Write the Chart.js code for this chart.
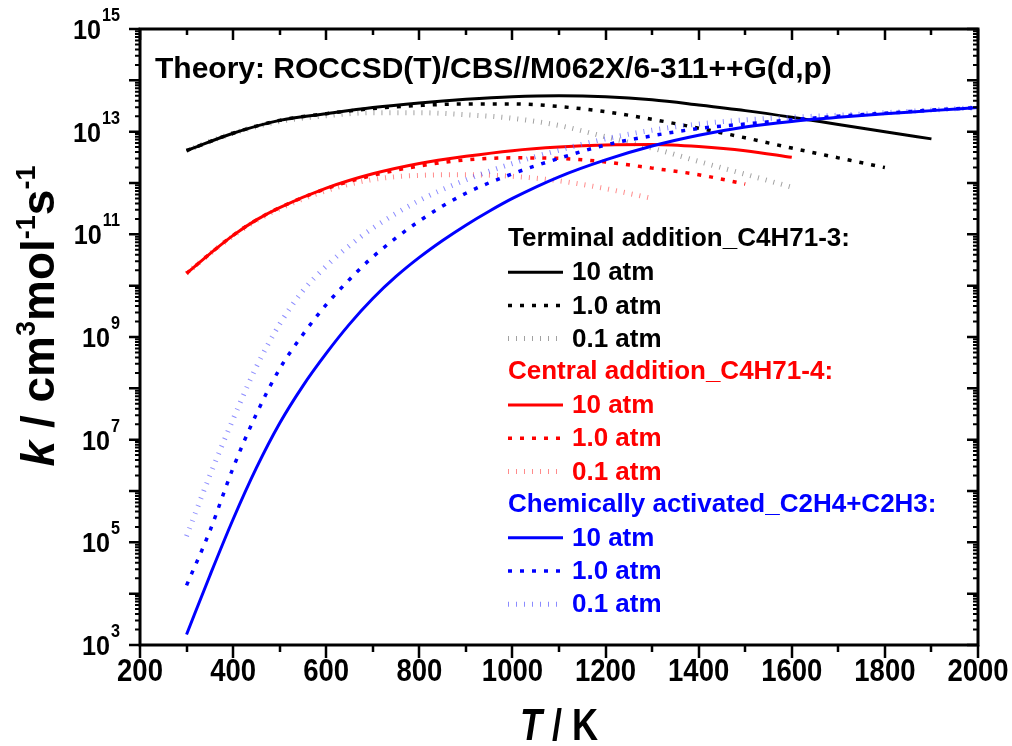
<!DOCTYPE html>
<html><head><meta charset="utf-8">
<script src="https://cdn.jsdelivr.net/npm/chart.js@4/dist/chart.umd.min.js"></script>
<style>html,body{margin:0;padding:0;background:#fff}canvas{display:block}</style>
</head><body>
<canvas id="c" width="1012" height="746"></canvas>
<script>
// ---- Data (T in K, k in cm3 mol-1 s-1) ----
const T_term10 = [300,400,500,600,700,800,900,1000,1100,1200,1300,1400,1500,1600,1700,1800,1900];
const k_term10 = [4.27e12,9.33e12,1.66e13,2.24e13,2.95e13,3.63e13,4.27e13,4.79e13,5.01e13,4.79e13,4.17e13,3.31e13,2.57e13,1.91e13,1.38e13,1.0e13,7.24e12];
const T_term1 = [300,400,500,600,700,800,900,1000,1100,1200,1300,1400,1500,1600,1700,1800];
const k_term1 = [4.27e12,9.33e12,1.66e13,2.24e13,2.82e13,3.24e13,3.47e13,3.47e13,3.09e13,2.45e13,1.74e13,1.17e13,7.59e12,4.79e12,3.09e12,2.0e12];
const T_term01 = [300,400,500,600,700,800,900,1000,1100,1200,1300,1400,1500,1600];
const k_term01 = [4.27e12,9.33e12,1.58e13,2.04e13,2.34e13,2.34e13,2.14e13,1.82e13,1.32e13,7.94e12,4.79e12,2.63e12,1.48e12,8.3e11];

const T_cent10 = [300,350,400,450,500,600,700,800,900,1000,1100,1200,1300,1400,1500,1600];
const k_cent10 = [1.74e10,4.17e10,9.55e10,1.91e11,3.31e11,7.94e11,1.51e12,2.40e12,3.31e12,4.27e12,5.01e12,5.50e12,5.62e12,5.13e12,4.27e12,3.16e12];
const T_cent1 = [300,350,400,450,500,600,700,800,900,1000,1100,1200,1300,1400,1500];
const k_cent1 = [1.74e10,4.17e10,9.55e10,1.91e11,3.31e11,7.76e11,1.41e12,2.14e12,2.82e12,3.09e12,3.02e12,2.57e12,1.95e12,1.45e12,9.55e11];
const T_cent01 = [300,350,400,450,500,600,700,800,900,1000,1100,1200,1300];
const k_cent01 = [1.74e10,4.17e10,9.33e10,1.86e11,3.16e11,7.08e11,1.17e12,1.41e12,1.45e12,1.35e12,1.10e12,7.76e11,5.01e11];

const T_chem10 = [300,350,400,450,500,550,600,650,700,750,800,850,900,950,1000,1100,1200,1300,1400,1500,1600,1700,1800,1900,2000];
const k_chem10 = [1.6e3,2.24e4,2.82e5,2.82e6,2.09e7,1.12e8,4.79e8,1.78e9,5.62e9,1.51e10,3.55e10,7.59e10,1.51e11,2.82e11,5.01e11,1.32e12,2.82e12,5.25e12,8.51e12,1.23e13,1.58e13,1.91e13,2.24e13,2.57e13,2.95e13];
const T_chem1 = [300,350,400,450,500,550,600,650,700,800,900,1000,1100,1200,1300,1400,1500,1600,1700,1800,1900,2000];
const k_chem1 = [1.45e4,1.66e5,2.82e6,3.16e7,2.40e8,1.12e9,4.27e9,1.32e10,3.63e10,1.82e11,6.31e11,1.51e12,3.02e12,5.50e12,8.32e12,1.15e13,1.41e13,1.70e13,2.0e13,2.29e13,2.63e13,2.95e13];
const T_chem01 = [300,350,400,450,500,550,600,650,700,800,900,1000,1100,1200,1300,1400,1500,1600,1700,1800,1900,2000];
const k_chem01 = [1.32e5,2.0e6,2.51e7,2.63e8,1.78e9,7.94e9,2.40e10,6.03e10,1.32e11,4.57e11,1.15e12,2.40e12,4.37e12,7.24e12,1.07e13,1.41e13,1.70e13,1.91e13,2.09e13,2.34e13,2.63e13,2.95e13];

const xTicks = [200,400,600,800,1000,1200,1400,1600,1800,2000];
const yExponents = [3,5,7,9,11,13,15];
const titleText = 'Theory: ROCCSD(T)/CBS//M062X/6-311++G(d,p)';
const groupNames = ['Terminal addition_C4H71-3:','Central addition_C4H71-4:','Chemically activated_C2H4+C2H3:'];
const pressureLabels = ['10 atm','1.0 atm','0.1 atm'];

// ---- Styles ----
const FONT = '"Liberation Sans", Arial, Helvetica, sans-serif';
const groupColors = ['#000000','#ff0000','#0000ff'];
const lightColors = ['rgba(110,110,110,0.65)','rgba(255,90,90,0.7)','rgba(90,90,255,0.7)'];
const styles = [
  {w:3, dash:[]},
  {w:3.5, dash:[4,8]},
  {w:5, dash:[1,7]}
];

function pts(T,k){ return T.map((t,i)=>({x:t,y:k[i]})); }
const seriesData = [
  [pts(T_term10,k_term10), pts(T_term1,k_term1), pts(T_term01,k_term01)],
  [pts(T_cent10,k_cent10), pts(T_cent1,k_cent1), pts(T_cent01,k_cent01)],
  [pts(T_chem10,k_chem10), pts(T_chem1,k_chem1), pts(T_chem01,k_chem01)]
];
const datasets = [];
seriesData.forEach((grp,g)=>grp.forEach((d,p)=>{
  datasets.push({
    label: groupNames[g]+' '+pressureLabels[p],
    data: d,
    borderColor: p===2 ? lightColors[g] : groupColors[g],
    borderWidth: styles[p].w,
    borderDash: styles[p].dash,
    borderCapStyle: 'butt',
    pointRadius: 0,
    fill: false,
    cubicInterpolationMode: 'monotone',
    order: (2-g)*3 + p
  });
}));

// parts: {t, size, italic, dy, gap}; sx = horizontal condensation factor
function drawRich(ctx, parts, x, y, align, sx){
  sx = sx || 1;
  let total = 0;
  parts.forEach(p=>{ ctx.font = (p.italic?'italic ':'')+'bold '+p.size+'px '+FONT; p.w = ctx.measureText(p.t).width*sx + (p.gap||0); total += p.w; });
  let cx = align==='center' ? x - total/2 : (align==='right' ? x - total : x);
  ctx.textAlign = 'left';
  parts.forEach(p=>{
    ctx.font = (p.italic?'italic ':'')+'bold '+p.size+'px '+FONT;
    ctx.save(); ctx.translate(cx + (p.gap||0), y + (p.dy||0)); ctx.scale(sx,1); ctx.fillText(p.t, 0, 0); ctx.restore();
    cx += p.w;
  });
  return total;
}

const decor = {
  id:'decor',
  afterDraw(chart){
    const {ctx, chartArea:a, scales:{x,y}} = chart;
    ctx.save();
    ctx.strokeStyle = '#000'; ctx.fillStyle = '#000';
    // ticks
    ctx.lineWidth = 2.5;
    ctx.beginPath();
    for(let t=200;t<=2000;t+=100){
      const px = Math.round(x.getPixelForValue(t));
      const major = t%200===0;
      ctx.moveTo(px, a.bottom); ctx.lineTo(px, a.bottom + (major?13:7));
      ctx.moveTo(px, a.top); ctx.lineTo(px, a.top + (major?11:6));
    }
    for(let e=3;e<=15;e++){
      const py = y.getPixelForValue(Math.pow(10,e));
      ctx.moveTo(a.left, py); ctx.lineTo(a.left-11, py);
      ctx.moveTo(a.right, py); ctx.lineTo(a.right-11, py);
    }
    ctx.stroke();
    ctx.lineWidth = 2;
    ctx.beginPath();
    for(let e=3;e<15;e++){
      for(let m=2;m<=9;m++){
        const py = y.getPixelForValue(m*Math.pow(10,e));
        ctx.moveTo(a.left, py); ctx.lineTo(a.left-5, py);
        ctx.moveTo(a.right, py); ctx.lineTo(a.right-5, py);
      }
    }
    ctx.stroke();
    // frame
    ctx.lineWidth = 3;
    ctx.strokeRect(a.left, a.top, a.right-a.left, a.bottom-a.top);

    ctx.textBaseline='alphabetic';
    // x tick labels
    xTicks.forEach(t=>{ drawRich(ctx, [{t:String(t),size:32}], x.getPixelForValue(t), a.bottom+36, 'center', 0.86); });
    // y tick labels
    yExponents.forEach(e=>{
      const py = y.getPixelForValue(Math.pow(10,e));
      drawRich(ctx, [{t:'10',size:28,dy:0},{t:String(e),size:18,dy:-18,gap:1}], a.left-20, py+10, 'right', 0.9);
    });
    // axis titles
    drawRich(ctx, [{t:'T',size:44,italic:true},{t:' / K',size:44}], (a.left+a.right)/2, 740, 'center', 0.82);
    ctx.save();
    ctx.translate(54, 316);
    ctx.rotate(-Math.PI/2);
    drawRich(ctx, [{t:'k',size:46,italic:true},{t:' / cm',size:46},{t:'3',size:27,dy:-19},{t:'mol',size:46},{t:'-1',size:27,dy:-19},{t:'s',size:46},{t:'-1',size:27,dy:-19}], 0, 0, 'center', 1.0);
    ctx.restore();

    // inner title
    ctx.font = 'bold 30px '+FONT; ctx.textAlign='left';
    ctx.fillText(titleText, 155, 78);

    // legend
    const lx = 508, lw = 55, tx = 572, y0 = 239, dy = 33.2;
    let row = 0;
    ctx.textBaseline = 'middle';
    groupNames.forEach((gname,g)=>{
      ctx.fillStyle = groupColors[g];
      ctx.font = 'bold 26px '+FONT; ctx.textAlign='left';
      ctx.fillText(gname, lx, y0 + row*dy); row++;
      pressureLabels.forEach((pl,p)=>{
        const yy = y0 + row*dy;
        ctx.save();
        ctx.strokeStyle = p===2 ? lightColors[g] : groupColors[g];
        ctx.lineWidth = styles[p].w; ctx.setLineDash(styles[p].dash); ctx.lineCap='butt';
        ctx.beginPath(); ctx.moveTo(lx, yy); ctx.lineTo(lx+lw, yy); ctx.stroke();
        ctx.restore();
        ctx.fillStyle = groupColors[g];
        ctx.font = 'bold 26px '+FONT;
        ctx.fillText(pl, tx, yy+1);
        row++;
      });
    });
    ctx.restore();
  }
};

new Chart(document.getElementById('c'), {
  type:'line',
  data:{datasets},
  options:{
    responsive:false, animation:false, devicePixelRatio:1,
    layout:{padding:{left:140,right:34,top:29,bottom:101}},
    plugins:{legend:{display:false},tooltip:{enabled:false}},
    scales:{
      x:{type:'linear',min:200,max:2000,display:false},
      y:{type:'logarithmic',min:1e3,max:1e15,display:false}
    }
  },
  plugins:[decor]
});
</script>
</body></html>
